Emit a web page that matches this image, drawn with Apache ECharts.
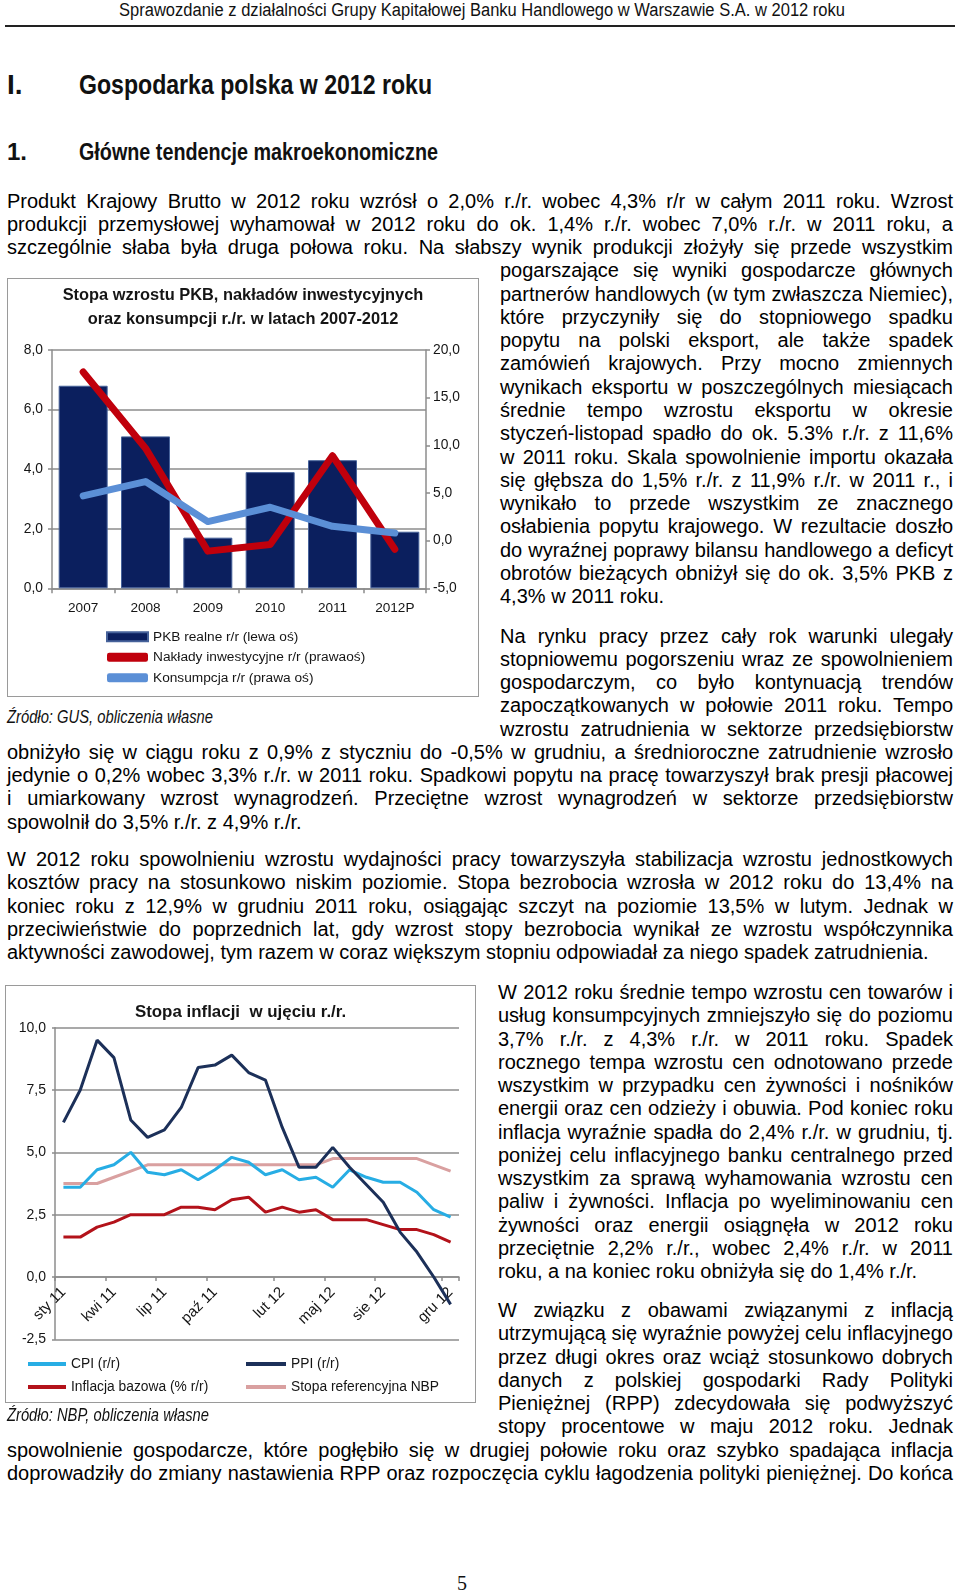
<!DOCTYPE html>
<html><head><meta charset="utf-8">
<script src="https://cdn.jsdelivr.net/npm/echarts@6/dist/echarts.min.js"></script>
<style>
html,body{margin:0;padding:0;background:#fff;}
#page{position:relative;width:960px;height:1591px;overflow:hidden;font-family:"Liberation Sans",Arial,sans-serif;color:#000;background:#fff;}
.ln{position:absolute;height:23px;line-height:23px;font-size:20px;white-space:nowrap;}
.nar{position:absolute;white-space:nowrap;font-family:"Liberation Sans Narrow","Arial Narrow","Liberation Sans",sans-serif;transform-origin:0 50%;color:#111;}
.box{position:absolute;border:1.5px solid #9a9a9a;box-sizing:border-box;pointer-events:none;}
.chart{position:absolute;}
</style></head><body><div id="page">
<div id="hdrline" style="position:absolute;left:5px;top:25px;width:950px;height:1.5px;background:#222;"></div>
<div id="c1" class="chart" style="left:7px;top:278px;width:472px;height:419px;"></div>
<div class="box" style="left:7px;top:278px;width:472px;height:419px;"></div>
<div id="c2" class="chart" style="left:5px;top:985px;width:471px;height:418px;"></div>
<div class="box" style="left:5px;top:985px;width:471px;height:418px;"></div>
</div>
<script>
// ---------- chart data ----------
const years = ['2007', '2008', '2009', '2010', '2011', '2012P'];
const gdpGrowth = [6.8, 5.1, 1.7, 3.9, 4.3, 1.9];
const investmentGrowth = [17.7, 9.7, -1.1, -0.4, 8.9, -0.9];
const consumptionGrowth = [4.7, 6.2, 2.0, 3.5, 1.5, 0.8];
const leftTicks = [0, 2, 4, 6, 8];
const rightTicks = [-5, 0, 5, 10, 15, 20];

const months = ['sty 11','lut 11','mar 11','kwi 11','maj 11','cze 11','lip 11','sie 11','wrz 11','paź 11','lis 11','gru 11',
                'sty 12','lut 12','mar 12','kwi 12','maj 12','cze 12','lip 12','sie 12','wrz 12','paź 12','lis 12','gru 12'];
const monthTickLabels = ['sty 11','kwi 11','lip 11','paź 11','lut 12','maj 12','sie 12','gru 12'];
const cpi  = [3.6,3.6,4.3,4.5,5.0,4.2,4.1,4.3,3.9,4.3,4.8,4.6,4.1,4.3,3.9,4.0,3.6,4.3,4.0,3.8,3.8,3.4,2.7,2.4];
const ppi  = [6.2,7.5,9.5,8.8,6.3,5.6,5.9,6.8,8.4,8.5,8.9,8.2,7.9,6.0,4.4,4.4,5.2,4.4,3.7,3.0,1.8,1.0,0.0,-1.1];
const core = [1.6,1.6,2.0,2.2,2.5,2.5,2.5,2.8,2.8,2.7,3.1,3.2,2.6,2.8,2.6,2.7,2.3,2.3,2.3,2.1,1.9,1.9,1.7,1.4];
const nbpRate = [3.75,3.75,3.75,4.0,4.25,4.5,4.5,4.5,4.5,4.5,4.5,4.5,4.5,4.5,4.5,4.5,4.75,4.75,4.75,4.75,4.75,4.75,4.5,4.25];
const inflTicks = [-2.5, 0, 2.5, 5, 7.5, 10];

const NF='"Liberation Sans Narrow", "Arial Narrow", "Liberation Sans", sans-serif';

// ---------- page text ----------
const page=document.getElementById('page');
function addNarrow(text,x,yc,size,opts){
  opts=opts||{};
  const d=document.createElement('div');
  d.className='nar';
  d.textContent=text;
  d.style.left=x+'px';
  d.style.top=(yc-size*0.6)+'px';
  d.style.fontSize=size+'px';
  d.style.lineHeight=(size*1.2)+'px';
  if(opts.bold) d.style.fontWeight='bold';
  if(opts.italic) d.style.fontStyle='italic';
  if(opts.family) d.style.fontFamily=opts.family;
  page.appendChild(d);
  if(opts.w){
    const w=d.getBoundingClientRect().width;
    d.style.transform='scaleX('+(opts.w/w)+')';
  }
  if(opts.center){
    const w=d.getBoundingClientRect().width;
    d.style.left=(x-w/2)+'px';
  }
  return d;
}
addNarrow('Sprawozdanie z działalności Grupy Kapitałowej Banku Handlowego w Warszawie S.A. w 2012 roku',119,11,18,{w:726});
addNarrow('I.',7,85,28,{bold:true});
addNarrow('Gospodarka polska w 2012 roku',79,85,28,{bold:true,w:353});
addNarrow('1.',7,152,24,{bold:true});
addNarrow('Główne tendencje makroekonomiczne',79,152,24,{bold:true,w:359});
addNarrow('Źródło: GUS, obliczenia własne',7,718,18,{italic:true,w:206});
addNarrow('Źródło: NBP, obliczenia własne',7,1416,18,{italic:true,w:202});
addNarrow('5',462,1583,20,{family:'"Liberation Serif",serif',center:true});

const COL={F:[7,946],R:[500,453],Q:[498,455]};
const STEP=23.27;
const paragraphs=[
 {y:201.1,lines:[
  ['F','Produkt Krajowy Brutto w 2012 roku wzrósł o 2,0% r./r. wobec 4,3% r/r w całym 2011 roku. Wzrost'],
  ['F','produkcji przemysłowej wyhamował w 2012 roku do ok. 1,4% r./r. wobec 7,0% r./r. w 2011 roku, a'],
  ['F','szczególnie słaba była druga połowa roku. Na słabszy wynik produkcji złożyły się przede wszystkim'],
  ['R','pogarszające się wyniki gospodarcze głównych'],
  ['R','partnerów handlowych (w tym zwłaszcza Niemiec),'],
  ['R','które przyczyniły się do stopniowego spadku'],
  ['R','popytu na polski eksport, ale także spadek'],
  ['R','zamówień krajowych. Przy mocno zmiennych'],
  ['R','wynikach eksportu w poszczególnych miesiącach'],
  ['R','średnie tempo wzrostu eksportu w okresie'],
  ['R','styczeń-listopad spadło do ok. 5.3% r./r. z 11,6%'],
  ['R','w 2011 roku. Skala spowolnienie importu okazała'],
  ['R','się głębsza do 1,5% r./r. z 11,9% r./r. w 2011 r., i'],
  ['R','wynikało to przede wszystkim ze znacznego'],
  ['R','osłabienia popytu krajowego. W rezultacie doszło'],
  ['R','do wyraźnej poprawy bilansu handlowego a deficyt'],
  ['R','obrotów bieżących obniżył się do ok. 3,5% PKB z'],
  ['R','4,3% w 2011 roku.',1]]},
 {y:636.0,lines:[
  ['R','Na rynku pracy przez cały rok warunki ulegały'],
  ['R','stopniowemu pogorszeniu wraz ze spowolnieniem'],
  ['R','gospodarczym, co było kontynuacją trendów'],
  ['R','zapoczątkowanych w połowie 2011 roku. Tempo'],
  ['R','wzrostu zatrudnienia w sektorze przedsiębiorstw'],
  ['F','obniżyło się w ciągu roku z 0,9% z styczniu do -0,5% w grudniu, a średnioroczne zatrudnienie wzrosło'],
  ['F','jedynie o 0,2% wobec 3,3% r./r. w 2011 roku. Spadkowi popytu na pracę towarzyszył brak presji płacowej'],
  ['F','i umiarkowany wzrost wynagrodzeń. Przeciętne wzrost wynagrodzeń w sektorze przedsiębiorstw'],
  ['F','spowolnił do 3,5% r./r. z 4,9% r./r.',1]]},
 {y:859.5,lines:[
  ['F','W 2012 roku spowolnieniu wzrostu wydajności pracy towarzyszyła stabilizacja wzrostu jednostkowych'],
  ['F','kosztów pracy na stosunkowo niskim poziomie. Stopa bezrobocia wzrosła w 2012 roku do 13,4% na'],
  ['F','koniec roku z 12,9% w grudniu 2011 roku, osiągając szczyt na poziomie 13,5% w lutym. Jednak w'],
  ['F','przeciwieństwie do poprzednich lat, gdy wzrost stopy bezrobocia wynikał ze wzrostu współczynnika'],
  ['F','aktywności zawodowej, tym razem w coraz większym stopniu odpowiadał za niego spadek zatrudnienia.',1]]},
 {y:992.5,lines:[
  ['Q','W 2012 roku średnie tempo wzrostu cen towarów i'],
  ['Q','usług konsumpcyjnych zmniejszyło się do poziomu'],
  ['Q','3,7% r./r. z 4,3% r./r. w 2011 roku. Spadek'],
  ['Q','rocznego tempa wzrostu cen odnotowano przede'],
  ['Q','wszystkim w przypadku cen żywności i nośników'],
  ['Q','energii oraz cen odzieży i obuwia. Pod koniec roku'],
  ['Q','inflacja wyraźnie spadła do 2,4% r./r. w grudniu, tj.'],
  ['Q','poniżej celu inflacyjnego banku centralnego przed'],
  ['Q','wszystkim za sprawą wyhamowania wzrostu cen'],
  ['Q','paliw i żywności. Inflacja po wyeliminowaniu cen'],
  ['Q','żywności oraz energii osiągnęła w 2012 roku'],
  ['Q','przeciętnie 2,2% r./r., wobec 2,4% r./r. w 2011'],
  ['Q','roku, a na koniec roku obniżyła się do 1,4% r./r.',1]]},
 {y:1310.5,lines:[
  ['Q','W związku z obawami związanymi z inflacją'],
  ['Q','utrzymującą się wyraźnie powyżej celu inflacyjnego'],
  ['Q','przez długi okres oraz wciąż stosunkowo dobrych'],
  ['Q','danych z polskiej gospodarki Rady Polityki'],
  ['Q','Pieniężnej (RPP) zdecydowała się podwyższyć'],
  ['Q','stopy procentowe w maju 2012 roku. Jednak'],
  ['F','spowolnienie gospodarcze, które pogłębiło się w drugiej połowie roku oraz szybko spadająca inflacja'],
  ['F','doprowadziły do zmiany nastawienia RPP oraz rozpoczęcia cyklu łagodzenia polityki pieniężnej. Do końca']]}
];
paragraphs.forEach(p=>{
  p.lines.forEach((l,k)=>{
    const c=COL[l[0]];
    const d=document.createElement('div');
    d.className='ln';
    d.style.left=c[0]+'px';
    d.style.width=c[1]+'px';
    d.style.top=(p.y+k*STEP-11.5)+'px';
    const s=document.createElement('span');
    s.textContent=l[1];
    d.appendChild(s);
    page.appendChild(d);
    const w=s.getBoundingClientRect().width;
    const n=(l[1].match(/ /g)||[]).length;
    if((!l[2] || w>c[1]) && n>0){
      s.style.wordSpacing=((c[1]-w)/n)+'px';
    }
  });
});

// ---------- charts ----------
const fmt=v=>v.toFixed(1).replace('.',',');
const GRID='#8c8c8c';
const TXT='#151515';
const txt=(size)=>({fontFamily:NF,fontSize:size,color:TXT});

const chart1=echarts.init(document.getElementById('c1'));
chart1.setOption({
  animation:false,
  title:{
    text:'Stopa wzrostu PKB, nakładów inwestycyjnych\noraz konsumpcji r./r. w latach 2007-2012',
    left:'center', top:5, padding:0,
    textStyle:{fontFamily:NF,fontWeight:'bold',fontSize:16.4,lineHeight:24,color:TXT}
  },
  grid:{left:45,right:53,top:72,bottom:108.7},
  legend:{
    orient:'vertical', left:99, top:350, padding:0, itemWidth:41, itemHeight:9, itemGap:3, itemTextGap:3,
    textStyle:Object.assign(txt(13.7),{lineHeight:17.5}),
    data:[
      {name:'PKB realne r/r (lewa oś)',icon:'rect'},
      {name:'Nakłady inwestycyjne r/r (prawaoś)',icon:'roundRect'},
      {name:'Konsumpcja r/r (prawa oś)',icon:'roundRect'}
    ]
  },
  xAxis:{
    type:'category', data:years,
    axisLine:{lineStyle:{color:GRID,width:1.5}},
    axisTick:{show:true,length:5,lineStyle:{color:GRID,width:1.5}},
    axisLabel:Object.assign(txt(13.6),{margin:13})
  },
  yAxis:[
    {type:'value',min:leftTicks[0],max:leftTicks[leftTicks.length-1],interval:leftTicks[1]-leftTicks[0],
     axisLine:{show:true,lineStyle:{color:GRID,width:1.5}},
     axisTick:{show:true,length:4,lineStyle:{color:GRID,width:1.5}},
     splitLine:{show:true,lineStyle:{color:GRID,width:1.5}},
     axisLabel:Object.assign(txt(13.8),{formatter:fmt,margin:9})},
    {type:'value',position:'right',min:rightTicks[0],max:rightTicks[rightTicks.length-1],interval:rightTicks[1]-rightTicks[0],
     axisLine:{show:true,lineStyle:{color:GRID,width:1.5}},
     axisTick:{show:true,length:4,lineStyle:{color:GRID,width:1.5}},
     splitLine:{show:false},
     axisLabel:Object.assign(txt(13.8),{formatter:fmt,margin:7})}
  ],
  series:[
    {name:'PKB realne r/r (lewa oś)',type:'bar',data:gdpGrowth,barWidth:49,
     itemStyle:{color:'#0b1f5e',borderColor:'#46629a',borderWidth:1}},
    {name:'Nakłady inwestycyjne r/r (prawaoś)',type:'line',yAxisIndex:1,data:investmentGrowth,
     symbol:'none',lineStyle:{color:'#c0000c',width:7,cap:'round',join:'round'},itemStyle:{color:'#c0000c'}},
    {name:'Konsumpcja r/r (prawa oś)',type:'line',yAxisIndex:1,data:consumptionGrowth,
     symbol:'none',lineStyle:{color:'#5b8fd6',width:7,cap:'round',join:'round'},itemStyle:{color:'#5b8fd6'}}
  ]
});

const labelIdx=months.map((m,i)=>monthTickLabels.includes(m)?i:-1).filter(i=>i>=0);
const leg2=(name,left,top,w)=>({orient:'horizontal',left:left,top:top,itemWidth:w,itemHeight:4,itemTextGap:5,padding:0,
   textStyle:Object.assign(txt(13.8),{lineHeight:18}),data:[{name:name,icon:'rect'}]});
const G2={top:42.7,bottom:63.7,height:418};
const plotH2=G2.height-G2.top-G2.bottom;
const zeroOffset=plotH2*(0-inflTicks[0])/(inflTicks[inflTicks.length-1]-inflTicks[0]);
const chart2=echarts.init(document.getElementById('c2'));
chart2.setOption({
  animation:false,
  title:{
    text:'Stopa inflacji  w ujęciu r./r.', left:'center', top:15, padding:0,
    textStyle:{fontFamily:NF,fontWeight:'bold',fontSize:16.9,lineHeight:24,color:TXT}
  },
  grid:{left:50,right:17,top:G2.top,bottom:G2.bottom},
  legend:[
    leg2('CPI (r/r)',23,370,38),
    leg2('Inflacja bazowa (% r/r)',23,393,38),
    leg2('PPI (r/r)',241,370,40),
    leg2('Stopa referencyjna NBP',241,393,40)
  ],
  xAxis:{
    type:'category', data:months, boundaryGap:true, position:'bottom', offset:-zeroOffset,
    axisLine:{onZero:false,lineStyle:{color:GRID,width:1.5}},
    axisTick:{show:true,length:4,interval:(i)=>labelIdx.includes(i),lineStyle:{color:GRID,width:1.5}},
    axisLabel:Object.assign(txt(15),{interval:(i)=>labelIdx.includes(i),rotate:45,margin:13})
  },
  yAxis:{
    type:'value',min:inflTicks[0],max:inflTicks[inflTicks.length-1],interval:inflTicks[1]-inflTicks[0],
    axisLine:{show:true,lineStyle:{color:GRID,width:1.5}},
    axisTick:{show:true,length:3,lineStyle:{color:GRID,width:1.5}},
    splitLine:{show:true,lineStyle:{color:GRID,width:1.5}},
    axisLabel:Object.assign(txt(14),{formatter:fmt,margin:9})
  },
  series:[
    {name:'Stopa referencyjna NBP',type:'line',data:nbpRate,symbol:'none',lineStyle:{color:'#d9a0a0',width:3},itemStyle:{color:'#d9a0a0'}},
    {name:'CPI (r/r)',type:'line',data:cpi,symbol:'none',lineStyle:{color:'#27ade4',width:3},itemStyle:{color:'#27ade4'}},
    {name:'Inflacja bazowa (% r/r)',type:'line',data:core,symbol:'none',lineStyle:{color:'#b3121a',width:3},itemStyle:{color:'#b3121a'}},
    {name:'PPI (r/r)',type:'line',data:ppi,symbol:'none',lineStyle:{color:'#1c3059',width:3},itemStyle:{color:'#1c3059'}}
  ]
});
</script>
</body></html>
